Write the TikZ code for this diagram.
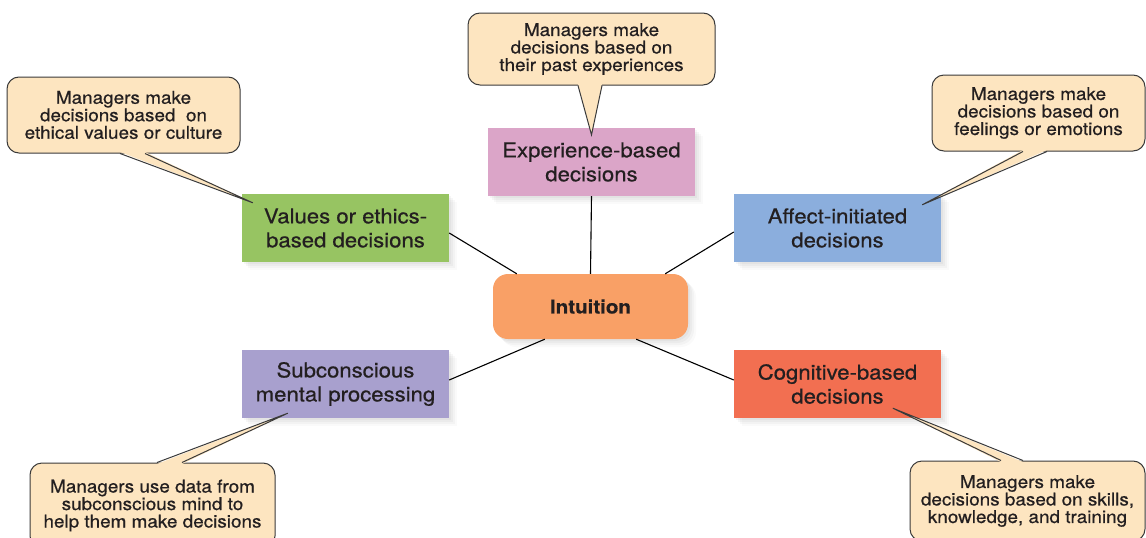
\documentclass[tikz,border=0pt]{standalone}
\usepackage{fontspec}
\setmainfont{TeX Gyre Heros}[FakeStretch=1.08, FakeBold=0.6]
\usetikzlibrary{calc,shadows}
\definecolor{txt}{HTML}{231F20}
\definecolor{callfill}{HTML}{FDE5C0}
\definecolor{cline}{HTML}{3A3A3A}
\definecolor{intuc}{HTML}{F9A066}
\definecolor{expc}{HTML}{DBA5C8}
\definecolor{valc}{HTML}{97C462}
\definecolor{affc}{HTML}{8BAEDD}
\definecolor{subc}{HTML}{A8A0CE}
\definecolor{cogc}{HTML}{F26F51}
\begin{document}
\begin{tikzpicture}[x=1pt,y=-1pt,
  softshadow/.style={
    drop shadow={shadow xshift=2pt, shadow yshift=-2pt, opacity=0.07},
    drop shadow={shadow xshift=4pt, shadow yshift=-4pt, opacity=0.07},
    drop shadow={shadow xshift=6pt, shadow yshift=-6pt, opacity=0.06},
    drop shadow={shadow xshift=8pt, shadow yshift=-8pt, opacity=0.04}},
  box/.style={rectangle, minimum width=207pt, minimum height=68pt, inner sep=0pt,
    align=center, text=txt, font=\fontsize{20.5}{24}\selectfont, softshadow},
  call/.style={rectangle, rounded corners=12pt, draw=cline, line width=1pt,
    fill=callfill, align=center, inner sep=0pt, text=txt,
    font=\fontsize{17.5}{17.5}\selectfont},
  link/.style={draw=black, line width=1.1pt},
  ptr/.style={draw=cline, line width=1pt, line join=miter}]
\useasboundingbox (0,0) rectangle (1146,538);
\clip (0,0) rectangle (1146,538);

% central and decision boxes
\node[box, fill=intuc, minimum width=195pt, minimum height=65pt, rounded corners=15pt,
  font=\fontsize{19}{23}\selectfont\bfseries] (intu) at (590.5,306.5) {Intuition};
\node[box, fill=expc] (exp) at (591.5,162) {Experience-based\\decisions};
\node[box, fill=valc] (val) at (345.5,228) {Values or ethics-\\based decisions};
\node[box, fill=affc] (aff) at (837.5,228) {Affect-initiated\\decisions};
\node[box, fill=subc] (sub) at (345.5,384) {Subconscious\\mental processing};
\node[box, fill=cogc] (cog) at (837.5,384) {Cognitive-based\\decisions};

% connectors
\draw[link] (exp.south) -- (intu.north);
\draw[link] ($(val.east)+(0,5)$) -- ($(intu.north west)+(24,0)$);
\draw[link] ($(aff.west)+(0,4)$) -- ($(intu.north east)+(-23,0)$);
\draw[link] ($(sub.east)+(0,-4)$) -- ($(intu.south west)+(52,0)$);
\draw[link] ($(cog.west)+(0,-4)$) -- ($(intu.south east)+(-52,0)$);

% callouts
\node[call, minimum width=247pt, minimum height=72pt] (c1) at (591.5,49)
  {Managers make\\decisions based on\\their past experiences};
\node[call, minimum width=233pt, minimum height=76pt] (c2) at (123.5,115)
  {Managers make\\decisions based~ on\\ethical values or culture};
\node[call, minimum width=213pt, minimum height=76pt] (c3) at (1038.5,113)
  {Managers make\\decisions based on\\feelings or emotions};
\node[call, minimum width=245pt, minimum height=85pt] (c4) at (152.5,505.5)
  {Managers use data from\\subconscious mind to\\help them make decisions};
\node[call, minimum width=235pt, minimum height=80pt] (c5) at (1027.5,501)
  {Managers make\\decisions based on skills,\\knowledge, and training};

% pointer geometry
\coordinate (a1) at ($(c1.south)+(-13.5,0)$);
\coordinate (b1) at ($(c1.south)+(10.5,0)$);
\coordinate (t1) at ($(exp.north)+(0,7)$);
\coordinate (a2) at ($(c2.south)+(-3.5,0)$);
\coordinate (b2) at ($(c2.south)+(21.5,0)$);
\coordinate (t2) at ($(val.north west)+(11,9)$);
\coordinate (a3) at ($(c3.south)+(-15.5,0)$);
\coordinate (b3) at ($(c3.south)+(8.5,0)$);
\coordinate (t3) at ($(aff.north east)+(-19,11)$);
\coordinate (a4) at ($(c4.north)+(4.5,0)$);
\coordinate (b4) at ($(c4.north)+(29.5,0)$);
\coordinate (t4) at ($(sub.south west)+(46,-5)$);
\coordinate (a5) at ($(c5.north)+(-26.5,0)$);
\coordinate (b5) at ($(c5.north)+(-4.5,0)$);
\coordinate (t5) at ($(cog.south west)+(159,-10)$);

% pointers
\foreach \i in {1,2,3}{
  \fill[callfill] ($(a\i)+(0,-1.5)$) -- (t\i) -- ($(b\i)+(0,-1.5)$) -- cycle;
  \draw[ptr] (a\i) -- (t\i) -- (b\i);
}
\foreach \i in {4,5}{
  \fill[callfill] ($(a\i)+(0,1.5)$) -- (t\i) -- ($(b\i)+(0,1.5)$) -- cycle;
  \draw[ptr] (a\i) -- (t\i) -- (b\i);
}
\end{tikzpicture}
\end{document}
